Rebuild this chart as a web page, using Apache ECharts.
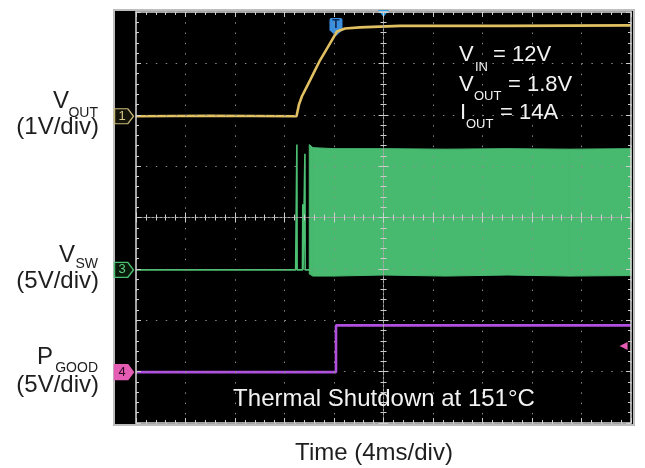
<!DOCTYPE html>
<html><head><meta charset="utf-8">
<script src="https://cdn.jsdelivr.net/npm/echarts@6/dist/echarts.min.js"></script>
<style>html,body{margin:0;padding:0;background:#fff}#c{width:645px;height:468px}</style>
</head><body><div id="c"></div>
<script>
// ---- data (time in ms, 4 ms/div over 10 div; voltages in V) ----
const xTicksMs = [0, 4, 8, 12, 16, 20, 24, 28, 32, 36, 40];
// Channel 1: VOUT, 1 V/div
const vOutTime = [0, 6, 12.97, 13.17, 13.41, 14.06, 14.87, 15.68, 16.24, 16.89, 18.1, 21.33, 30, 40];
const vOutVolt = [0, 0.01, 0, 0.23, 0.39, 0.70, 1.09, 1.42, 1.65, 1.71, 1.73, 1.76, 1.76, 1.77];
// Channel 3: VSW, 5 V/div (baseline with start-up spikes)
const swTime = [0, 12.9, 12.98, 13.0, 13.02, 13.05, 13.45, 13.48, 13.5, 13.53, 13.62, 13.65, 13.67, 13.7, 14.1];
const swVolt = [0, 0, 0, 12.2, 0, 0, 0, 6.4, 0, 0, 0, 11.3, 0, 0, 0];
// switching envelope once the converter runs
const bandTime = [14.0, 14.3, 16, 20, 25, 30, 35, 40];
const bandTop = [12.2, 11.9, 11.8, 11.8, 11.75, 11.8, 11.75, 11.8];
const bandBottom = [-0.4, -0.6, -0.6, -0.5, -0.6, -0.5, -0.6, -0.55];
// Channel 4: PGOOD, 5 V/div
const pgTime = [0, 16.16, 16.16, 40];
const pgVolt = [0, 0, 4.55, 4.55];
const trigTime = 16.16;
// channel positions (divisions from bottom) and scales (V/div)
const ch1 = {offset: 5.97, scale: 1};
const ch3 = {offset: 2.98, scale: 5};
const ch4 = {offset: 0.99, scale: 5};
const pgLevelDiv = 1.5;

const toDiv = (v, ch) => ch.offset + v / ch.scale;
const zip = (t, v, ch) => t.map((x, i) => [x, toDiv(v[i], ch)]);
const bandSegs = bandTime.slice(0, -1).map((t, i) => [
  t, toDiv(bandTop[i], ch3), toDiv(bandBottom[i], ch3),
  bandTime[i + 1], toDiv(bandTop[i + 1], ch3), toDiv(bandBottom[i + 1], ch3)
]);

const tickCol = '#cfcfcf';
function xAx(pos, offset, inside, line, extra) {
  return Object.assign({
    type: 'value', gridIndex: 0, position: pos, offset: offset, min: 0, max: 40, interval: 4, z: 10,
    axisLabel: {show: false},
    axisLine: {show: true, onZero: false, lineStyle: line},
    axisTick: {show: true, inside: inside, length: 5, lineStyle: {color: tickCol, width: 1}},
    minorTick: {show: true, splitNumber: 5, length: 3, lineStyle: {color: tickCol, width: 1}},
    splitLine: {show: false}
  }, extra || {});
}
function yAx(pos, offset, inside, line, extra) {
  return Object.assign({
    type: 'value', gridIndex: 0, position: pos, offset: offset, min: 0, max: 8, interval: 1, z: 10,
    axisLabel: {show: false},
    axisLine: {show: true, onZero: false, lineStyle: line},
    axisTick: {show: true, inside: inside, length: 5, lineStyle: {color: tickCol, width: 1}},
    minorTick: {show: true, splitNumber: 5, length: 3, lineStyle: {color: tickCol, width: 1}},
    splitLine: {show: false}
  }, extra || {});
}
const edgeLine = {color: '#d8d8d8', width: 1.5};
const centerLine = {color: '#a8a8a8', width: 1, type: [2, 2]};

const markerPath = 'path://M0,0 L14,0 L20,7 L14,14 L0,14 Z';
function chMarker(label, y, fill, stroke, textCol) {
  return {
    coord: [0, y], symbol: markerPath, symbolSize: [19, 15], symbolOffset: [-12, 0],
    itemStyle: {color: fill, borderColor: stroke, borderWidth: 1.3},
    label: {show: true, position: 'inside', formatter: label, color: textCol, fontSize: 13,
      fontFamily: 'Liberation Sans', offset: [-2, 0]}
  };
}

const textCol = '#1e1e1e';
const font24 = '24px "Liberation Sans", Arial, sans-serif';
const font14 = '14px "Liberation Sans", Arial, sans-serif';
const font22 = '22px "Liberation Sans", Arial, sans-serif';
const font13 = '13px "Liberation Sans", Arial, sans-serif';
function txt(text, x, y, font, color, align) {
  return {type: 'text', z: 50, style: {text: text, x: x, y: y, font: font, fill: color,
    align: align, textAlign: align, verticalAlign: 'middle', textVerticalAlign: 'middle'}};
}

const chart = echarts.init(document.getElementById('c'), null, {renderer: 'canvas'});
chart.setOption({
  animation: false,
  backgroundColor: '#ffffff',
  grid: [{left: 136, top: 12, width: 495, height: 411, show: false}],
  xAxis: [
    xAx('bottom', 0, true, edgeLine, {splitLine: {show: true, lineStyle: {color: '#8a8a8a', width: 1, type: [1.5, 8.78]}}}),
    xAx('top', 0, true, edgeLine),
    xAx('bottom', -205.5, true, centerLine),
    xAx('bottom', -205.5, false, centerLine)
  ],
  yAxis: [
    yAx('left', 0, true, edgeLine, {splitLine: {show: true, lineStyle: {color: '#8a8a8a', width: 1, type: [1.5, 8.4]}}}),
    yAx('right', 0, true, edgeLine),
    yAx('left', -247.5, true, centerLine),
    yAx('left', -247.5, false, centerLine)
  ],
  graphic: [
    {type: 'rect', z: -100, shape: {x: 114, y: 10, width: 520, height: 415},
      style: {fill: '#000000', stroke: '#bdbdbd', lineWidth: 2}},
    txt('V', 69, 101, font24, textCol, 'right'),
    txt('OUT', 98, 113, font14, textCol, 'right'),
    txt('(1V/div)', 99, 127, font24, textCol, 'right'),
    txt('V', 75, 255, font24, textCol, 'right'),
    txt('SW', 98, 264, font14, textCol, 'right'),
    txt('(5V/div)', 99, 281, font24, textCol, 'right'),
    txt('P', 53, 357, font24, textCol, 'right'),
    txt('GOOD', 98, 368, font14, textCol, 'right'),
    txt('(5V/div)', 99, 385, font24, textCol, 'right'),
    txt('Time (4ms/div)', 374, 453, font24, textCol, 'center'),
    txt('Thermal Shutdown at 151°C', 384, 399, font24, '#f2f2f2', 'center'),
    txt('V', 459, 55, font22, '#f2f2f2', 'left'),
    txt('IN', 475, 67, font13, '#f2f2f2', 'left'),
    txt('= 12V', 493, 55, font22, '#f2f2f2', 'left'),
    txt('V', 459, 85, font22, '#f2f2f2', 'left'),
    txt('OUT', 474, 96, font13, '#f2f2f2', 'left'),
    txt('= 1.8V', 508, 85, font22, '#f2f2f2', 'left'),
    txt('I', 460, 113, font22, '#f2f2f2', 'left'),
    txt('OUT', 466, 124, font13, '#f2f2f2', 'left'),
    txt('= 14A', 500, 113, font22, '#f2f2f2', 'left')
  ],
  series: [
    {
      name: 'VSW band', type: 'custom', xAxisIndex: 0, yAxisIndex: 0, data: bandSegs, z: 3, silent: true,
      encode: {x: [0, 3], y: [1, 2, 4, 5]},
      renderItem: function (params, api) {
        const a = api.coord([api.value(0), api.value(1)]);
        const b = api.coord([api.value(3), api.value(4)]);
        const c = api.coord([api.value(3), api.value(5)]);
        const d = api.coord([api.value(0), api.value(2)]);
        return {type: 'polygon', shape: {points: [a, b, c, d]},
          style: {fill: '#48ba6f', stroke: '#48ba6f', lineWidth: 1}};
      }
    },
    {
      name: 'VSW', type: 'line', xAxisIndex: 0, yAxisIndex: 0, showSymbol: false, clip: false,
      data: zip(swTime, swVolt, ch3), lineStyle: {color: '#4cc072', width: 1.6}, z: 4,
      markPoint: {silent: true, data: [chMarker('3', ch3.offset, '#0a1a0a', '#4cc072', '#5fd080')]}
    },
    {
      name: 'VOUT', type: 'line', xAxisIndex: 0, yAxisIndex: 0, showSymbol: false, clip: false,
      data: zip(vOutTime, vOutVolt, ch1), lineStyle: {color: '#e1c062', width: 2.6}, z: 5,
      markPoint: {silent: true, data: [
        chMarker('1', ch1.offset, '#141408', '#c9bb78', '#d6c888'),
        {coord: [trigTime, 8], symbol: 'path://M2,0 L12,0 Q14,0 14,2 L14,13 L7,19 L0,13 L0,2 Q0,0 2,0 Z',
          symbolSize: [13, 18], symbolOffset: [0, 15],
          itemStyle: {color: '#3b8fdc'},
          label: {show: true, position: 'inside', formatter: 'T', color: '#0b2a5a', fontSize: 12, fontWeight: 'bold', offset: [0, -2]}},
        {coord: [20, 8], symbol: 'triangle', symbolRotate: 180, symbolSize: [11, 7], symbolOffset: [0, 1.5],
          itemStyle: {color: '#2a9ee2'}, label: {show: false}}
      ]}
    },
    {
      name: 'PGOOD', type: 'line', xAxisIndex: 0, yAxisIndex: 0, showSymbol: false, clip: false,
      data: zip(pgTime, pgVolt, ch4), lineStyle: {color: '#b04fe0', width: 2.6}, z: 5,
      markPoint: {silent: true, data: [
        chMarker('4', ch4.offset, '#e45cb4', '#e45cb4', '#2a0a20'),
        {coord: [39.4, pgLevelDiv], symbol: 'triangle', symbolRotate: 90, symbolSize: [8, 8],
          itemStyle: {color: '#e45cb4'}, label: {show: false}}
      ]}
    }
  ]
});
</script></body></html>
